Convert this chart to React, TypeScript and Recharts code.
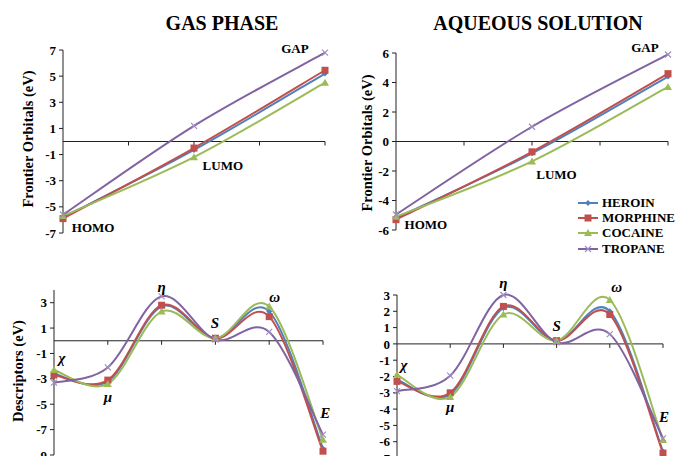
import React from "react";
import { LineChart, Line, XAxis, YAxis, ReferenceLine, ReferenceDot } from "recharts";

const SERIF = '"Liberation Serif", "Times New Roman", serif';

// frontier orbitals: HOMO, LUMO, GAP
const orbitalCats = ["HOMO", "LUMO", "GAP"];
const gasHeroin = [-5.8, -0.65, 5.2];
const gasMorphine = [-5.9, -0.5, 5.45];
const gasCocaine = [-5.7, -1.2, 4.5];
const gasTropane = [-5.6, 1.2, 6.8];

const aqHeroin = [-5.2, -0.8, 4.4];
const aqMorphine = [-5.3, -0.7, 4.6];
const aqCocaine = [-5.1, -1.35, 3.7];
const aqTropane = [-4.95, 1.0, 5.9];

// descriptors: χ, μ, η, S, ω, E
const descCats = ["χ", "μ", "η", "S", "ω", "E"];
const gasDescHeroin = [-2.6, -3.2, 2.7, 0.2, 2.3, -8.5];
const gasDescMorphine = [-2.7, -3.1, 2.8, 0.2, 1.9, -8.7];
const gasDescCocaine = [-2.3, -3.4, 2.3, 0.2, 2.7, -7.8];
const gasDescTropane = [-3.3, -2.1, 3.5, 0.1, 0.7, -7.4];

const aqDescHeroin = [-2.2, -3.1, 2.2, 0.2, 2.0, -6.6];
const aqDescMorphine = [-2.3, -3.0, 2.3, 0.2, 1.8, -6.7];
const aqDescCocaine = [-1.9, -3.25, 1.8, 0.2, 2.7, -5.9];
const aqDescTropane = [-2.9, -1.95, 3.0, 0.1, 0.6, -5.8];

const seriesNames = ["HEROIN", "MORPHINE", "COCAINE", "TROPANE"];
const seriesKeys = ["heroin", "morphine", "cocaine", "tropane"];
const colors = ["#4F81BD", "#C0504D", "#9BBB59", "#8064A2"];

const buildRows = (cats: string[], cols: number[][]) =>
  cats.map((c, i) => ({
    x: i,
    cat: c,
    heroin: cols[0][i],
    morphine: cols[1][i],
    cocaine: cols[2][i],
    tropane: cols[3][i],
  }));

// Excel-like smoothing (Catmull-Rom bezier)
const excelSmooth = (context: any) => {
  let pts: number[][] = [];
  return {
    areaStart() {},
    areaEnd() {},
    lineStart() {
      pts = [];
    },
    lineEnd() {
      const n = pts.length;
      if (!n) return;
      context.moveTo(pts[0][0], pts[0][1]);
      for (let i = 0; i < n - 1; i++) {
        const p0 = pts[Math.max(i - 1, 0)];
        const p1 = pts[i];
        const p2 = pts[i + 1];
        const p3 = pts[Math.min(i + 2, n - 1)];
        context.bezierCurveTo(
          p1[0] + (p2[0] - p0[0]) / 6,
          p1[1] + (p2[1] - p0[1]) / 6,
          p2[0] - (p3[0] - p1[0]) / 6,
          p2[1] - (p3[1] - p1[1]) / 6,
          p2[0],
          p2[1]
        );
      }
    },
    point(x: number, y: number) {
      pts.push([+x, +y]);
    },
  };
};

const Marker = ({ kind, cx, cy, color }: any) => {
  if (cx == null || cy == null) return null;
  if (kind === 0)
    return (
      <path d={`M${cx},${cy - 3}L${cx + 3},${cy}L${cx},${cy + 3}L${cx - 3},${cy}Z`} fill={color} />
    );
  if (kind === 1) return <rect x={cx - 3.5} y={cy - 3.5} width={7} height={7} fill={color} />;
  if (kind === 2)
    return <path d={`M${cx},${cy - 4}L${cx + 4},${cy + 3}L${cx - 4},${cy + 3}Z`} fill={color} />;
  return (
    <path
      d={`M${cx - 3},${cy - 3}L${cx + 3},${cy + 3}M${cx - 3},${cy + 3}L${cx + 3},${cy - 3}`}
      stroke="#A08CC0"
      strokeWidth={1.2}
      fill="none"
    />
  );
};

const tickStyle = { fontFamily: SERIF, fontWeight: 700, fontSize: 13, fill: "#000" };

type PanelProps = {
  rows: any[];
  width: number;
  height: number;
  margin: { top: number; right: number; bottom: number; left: number };
  yWidth: number;
  domain: [number, number];
  ticks: number[];
  xTicks: number[];
  labels: { text: string; x: number; y: number; italic?: boolean }[];
};

const Panel = ({ rows, width, height, margin, yWidth, domain, ticks, xTicks, labels }: PanelProps) => {
  const plotH = height - margin.top - margin.bottom;
  const tickLen = (4 * (domain[1] - domain[0])) / plotH;
  const xMax = rows.length - 1;
  return (
    <LineChart width={width} height={height} data={rows} margin={margin}>
      <XAxis type="number" dataKey="x" domain={[0, xMax]} hide />
      <YAxis
        type="number"
        domain={domain}
        ticks={ticks}
        width={yWidth}
        interval={0}
        tick={tickStyle}
        tickSize={4}
        tickMargin={3}
        axisLine={{ stroke: "#222" }}
        tickLine={{ stroke: "#222" }}
      />
      <ReferenceLine y={0} stroke="#222" strokeWidth={1} />
      {xTicks.map((t) => (
        <ReferenceLine
          key={"t" + t}
          segment={[
            { x: t, y: 0 },
            { x: t, y: -tickLen },
          ]}
          stroke="#222"
          ifOverflow="visible"
        />
      ))}
      {seriesKeys.map((k, si) => (
        <Line
          key={k}
          dataKey={k}
          type={excelSmooth as any}
          stroke={colors[si]}
          strokeWidth={2}
          isAnimationActive={false}
          dot={(p: any) => <Marker key={k + p.index} kind={si} cx={p.cx} cy={p.cy} color={colors[si]} />}
          activeDot={false}
        />
      ))}
      {labels.map((l) => (
        <ReferenceDot
          key={"l" + l.text}
          x={l.x}
          y={l.y}
          r={0}
          fill="none"
          stroke="none"
          ifOverflow="visible"
          label={{
            value: l.text,
            position: "center",
            fontFamily: SERIF,
            fontWeight: 700,
            fontStyle: l.italic ? "italic" : "normal",
            fontSize: l.italic ? 15 : 13,
            fill: "#000",
          }}
        />
      ))}
    </LineChart>
  );
};

const gasRows = buildRows(orbitalCats, [gasHeroin, gasMorphine, gasCocaine, gasTropane]);
const aqRows = buildRows(orbitalCats, [aqHeroin, aqMorphine, aqCocaine, aqTropane]);
const gasDescRows = buildRows(descCats, [gasDescHeroin, gasDescMorphine, gasDescCocaine, gasDescTropane]);
const aqDescRows = buildRows(descCats, [aqDescHeroin, aqDescMorphine, aqDescCocaine, aqDescTropane]);

const abs = (left: number, top: number): React.CSSProperties => ({ position: "absolute", left, top });

const titleStyle: React.CSSProperties = {
  position: "absolute",
  fontFamily: SERIF,
  fontWeight: 700,
  fontSize: 20,
  whiteSpace: "nowrap",
  transform: "translate(-50%, -50%)",
  color: "#000",
};

const yLabel = (text: string, cx: number, cy: number) => (
  <div
    style={{
      position: "absolute",
      left: cx,
      top: cy,
      fontFamily: SERIF,
      fontWeight: 700,
      fontSize: 14.5,
      whiteSpace: "nowrap",
      transform: "translate(-50%, -50%) rotate(-90deg)",
      color: "#000",
    }}
  >
    {text}
  </div>
);

export default function App() {
  return (
    <div
      style={{
        position: "absolute",
        left: 0,
        top: 0,
        width: 677,
        height: 456,
        overflow: "hidden",
        background: "#fff",
      }}
    >
      <div style={abs(0, 0)}>
        <Panel
          rows={gasRows}
          width={340}
          height={245}
          margin={{ top: 50, right: 15, bottom: 12, left: 0 }}
          yWidth={63}
          domain={[-7, 7]}
          ticks={[-7, -5, -3, -1, 1, 3, 5, 7]}
          xTicks={[0.5, 1, 1.5, 2]}
          labels={[
            { text: "HOMO", x: 0.23, y: -6.6 },
            { text: "LUMO", x: 1.22, y: -1.85 },
            { text: "GAP", x: 1.77, y: 7.1 },
          ]}
        />
      </div>
      <div style={abs(340, 0)}>
        <Panel
          rows={aqRows}
          width={337}
          height={245}
          margin={{ top: 53, right: 9, bottom: 15, left: 0 }}
          yWidth={56}
          domain={[-6, 6]}
          ticks={[-6, -4, -2, 0, 2, 4, 6]}
          xTicks={[0.5, 1, 1.5, 2]}
          labels={[
            { text: "HOMO", x: 0.22, y: -5.6 },
            { text: "LUMO", x: 1.18, y: -2.26 },
            { text: "GAP", x: 1.83, y: 6.4 },
          ]}
        />
      </div>
      <div style={abs(0, 240)}>
        <Panel
          rows={gasDescRows}
          width={340}
          height={230}
          margin={{ top: 50, right: 17, bottom: 15, left: 0 }}
          yWidth={54}
          domain={[-9, 4]}
          ticks={[-9, -7, -5, -3, -1, 1, 3]}
          xTicks={[1, 2, 3, 4, 5]}
          labels={[
            { text: "χ", x: 0.15, y: -1.35, italic: true },
            { text: "μ", x: 1.0, y: -4.4, italic: true },
            { text: "η", x: 2.0, y: 4.26, italic: true },
            { text: "S", x: 2.99, y: 1.42, italic: true },
            { text: "ω", x: 4.1, y: 3.47, italic: true },
            { text: "E", x: 5.04, y: -5.7, italic: true },
          ]}
        />
      </div>
      <div style={abs(340, 240)}>
        <Panel
          rows={aqDescRows}
          width={337}
          height={235}
          margin={{ top: 55, right: 14, bottom: 17, left: 0 }}
          yWidth={57}
          domain={[-7, 3]}
          ticks={[-7, -6, -5, -4, -3, -2, -1, 0, 1, 2, 3]}
          xTicks={[1, 2, 3, 4, 5]}
          labels={[
            { text: "χ", x: 0.13, y: -1.29, italic: true },
            { text: "μ", x: 1.0, y: -3.87, italic: true },
            { text: "η", x: 2.0, y: 3.74, italic: true },
            { text: "S", x: 3.0, y: 1.1, italic: true },
            { text: "ω", x: 4.13, y: 3.5, italic: true },
            { text: "E", x: 5.02, y: -4.48, italic: true },
          ]}
        />
      </div>

      <div style={{ ...titleStyle, left: 222, top: 23 }}>GAS PHASE</div>
      <div style={{ ...titleStyle, left: 538, top: 23 }}>AQUEOUS SOLUTION</div>
      {yLabel("Frontier Orbitals (eV)", 28, 139)}
      {yLabel("Frontier Orbitals (eV)", 367, 143)}
      {yLabel("Descriptors (eV)", 18, 371)}

      <div style={{ position: "absolute", left: 577, top: 195 }}>
        {seriesNames.map((n, i) => (
          <div key={n} style={{ display: "flex", alignItems: "center", height: 15.3 }}>
            <svg width={22} height={12} style={{ marginRight: 3 }}>
              <line x1={1} y1={6} x2={21} y2={6} stroke={colors[i]} strokeWidth={2} />
              <Marker kind={i} cx={11} cy={6} color={colors[i]} />
            </svg>
            <span style={{ fontFamily: SERIF, fontWeight: 700, fontSize: 13, color: "#000", whiteSpace: "nowrap" }}>
              {n}
            </span>
          </div>
        ))}
      </div>
    </div>
  );
}
